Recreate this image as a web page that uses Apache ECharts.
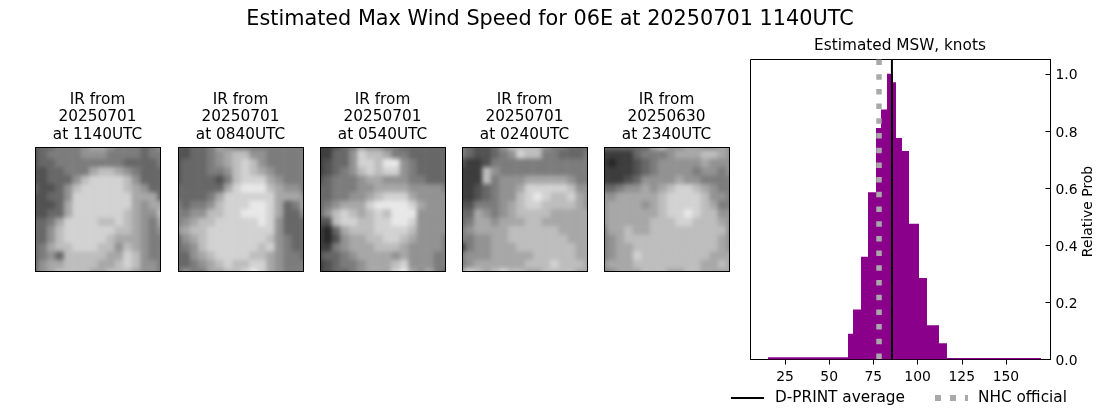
<!DOCTYPE html>
<html>
<head>
<meta charset="utf-8">
<title>Estimated Max Wind Speed</title>
<script src="https://cdn.jsdelivr.net/npm/echarts@6/dist/echarts.min.js"></script>
<style>
  html, body { margin: 0; padding: 0; background: #fff; }
  #main { position: absolute; left: 0; top: 0; width: 1100px; height: 409px; }
  .panel { position: absolute; top: 147px; width: 126px; height: 125px; box-sizing: border-box; border: 1px solid #000; overflow: hidden; }
  .panel div.ir { position: absolute; left: -6px; top: -6px; width: 136px; height: 135px; filter: blur(2px); }
</style>
</head>
<body>
<div id="main"></div>
<script>
// histogram of estimated MSW
const binEdges = [15.4, 60.6, 63.5, 68, 72, 76.5, 79.3, 82.7, 86.1, 87.8, 91.2, 95.1, 100.8, 105.3, 112.1, 116.6, 169.8];
const binProbs = [0.008, 0.09, 0.175, 0.36, 0.585, 0.81, 0.875, 1.0, 0.97, 0.775, 0.73, 0.475, 0.285, 0.12, 0.057, 0.005];
const dprintAverage = 85.5;
const nhcOfficial = 78.2;
const xTicks = [25, 50, 75, 100, 125, 150];
const yTicks = [0, 0.2, 0.4, 0.6, 0.8, 1.0];

// IR panels, coarse brightness (0 dark, 9 bright) by row
const panelTitles = ['IR from\n20250701\nat 1140UTC', 'IR from\n20250701\nat 0840UTC', 'IR from\n20250701\nat 0540UTC', 'IR from\n20250701\nat 0240UTC', 'IR from\n20250630\nat 2340UTC'];
const panelLeft = [35, 178, 320, 462, 604];
const ir1140 = [
  [2,3,3,4,4,4,5,6,6,5,4,4,4,3,4,5],
  [2,3,4,4,4,4,5,5,5,4,4,4,4,3,4,4],
  [2,3,3,4,4,4,4,4,4,4,4,3,3,3,3,4],
  [2,2,3,3,4,4,4,6,7,7,6,5,4,3,3,3],
  [2,2,3,3,3,5,7,8,8,8,8,7,5,3,3,3],
  [3,2,2,3,5,7,8,8,8,8,8,7,6,5,3,3],
  [2,2,3,3,5,8,8,8,8,8,8,8,6,6,6,3],
  [2,2,2,3,6,8,8,8,8,8,8,8,6,5,6,6],
  [2,2,3,3,6,8,8,8,8,8,8,7,6,5,5,7],
  [3,3,4,6,8,8,8,8,7,7,8,7,6,5,4,6],
  [3,3,5,7,8,8,8,8,8,8,7,7,6,5,4,5],
  [3,3,5,7,8,8,8,8,8,7,6,6,6,5,4,4],
  [3,4,6,7,7,8,8,8,7,7,5,7,6,5,4,4],
  [3,4,5,3,7,7,7,7,7,6,6,8,7,5,4,4],
  [3,5,6,6,7,7,7,7,6,6,7,8,7,5,5,4],
  [3,5,6,7,7,7,7,6,6,7,7,7,6,5,5,4]
];
const ir0840 = [
  [2,2,3,3,4,6,5,4,4,4,4,4,4,4,4,4],
  [2,2,3,3,4,5,6,7,7,5,5,4,4,4,4,4],
  [2,3,3,3,4,5,6,7,8,7,5,4,4,4,4,4],
  [2,3,3,3,4,4,5,7,8,7,6,5,4,4,4,4],
  [2,3,3,3,3,2,4,7,8,8,8,6,5,4,4,4],
  [3,3,3,3,3,3,6,8,9,9,9,7,6,5,5,4],
  [3,3,3,3,4,6,8,8,8,8,8,8,6,6,6,5],
  [4,3,4,4,5,7,8,8,8,9,9,8,6,3,4,6],
  [4,4,5,5,7,7,8,8,9,9,9,8,6,3,3,5],
  [4,5,6,7,7,8,8,8,8,8,9,8,5,3,3,3],
  [5,6,7,7,8,8,8,8,8,8,8,8,5,3,3,3],
  [3,5,6,7,8,8,8,8,8,8,8,7,5,4,3,3],
  [3,4,5,7,8,8,8,8,8,8,7,8,5,4,3,3],
  [3,3,5,6,7,8,8,8,8,7,7,6,5,4,4,3],
  [3,3,4,5,6,7,8,7,7,8,8,6,5,4,4,4],
  [3,5,4,4,6,6,7,7,8,9,8,6,5,4,4,4]
];
const ir0540 = [
  [1,1,2,3,4,6,5,5,4,4,3,3,3,3,3,3],
  [1,1,3,3,5,8,7,7,6,4,4,3,3,3,3,3],
  [1,2,3,3,5,8,8,7,9,9,5,4,3,3,3,3],
  [1,2,3,4,5,7,8,7,8,8,5,4,3,3,3,3],
  [2,3,4,4,4,5,6,6,5,5,5,4,4,3,3,3],
  [3,3,4,4,4,5,5,6,6,6,6,5,5,5,5,4],
  [3,3,4,4,5,5,6,7,8,8,8,6,5,5,5,5],
  [3,4,5,6,6,6,8,9,9,9,9,8,6,5,5,5],
  [3,5,7,8,7,6,7,8,7,9,9,9,5,5,5,5],
  [2,2,7,8,8,7,7,8,8,9,9,8,5,5,5,5],
  [1,0,3,6,7,7,7,8,8,8,8,7,5,5,5,5],
  [1,0,2,5,6,6,7,7,8,8,7,6,5,5,5,4],
  [1,1,4,5,6,6,6,7,7,7,6,5,5,5,5,4],
  [2,3,3,4,5,6,6,6,6,5,6,5,5,5,4,4],
  [1,2,3,4,4,5,6,6,6,7,8,5,5,5,4,4],
  [1,2,3,3,4,5,6,6,6,8,9,6,5,6,4,3]
];
const ir0240 = [
  [4,3,2,2,3,5,7,7,7,7,5,4,4,3,3,3],
  [4,3,2,2,3,4,5,8,7,7,4,4,3,3,3,4],
  [2,1,1,2,4,4,4,4,4,4,4,4,4,4,4,4],
  [1,1,1,7,5,4,4,4,4,4,4,4,4,4,4,4],
  [1,1,1,7,4,5,5,5,6,6,6,6,6,5,4,4],
  [1,1,2,3,4,5,5,6,8,8,8,8,8,7,5,5],
  [1,1,2,3,4,5,5,7,8,9,8,7,7,8,6,5],
  [2,2,4,4,4,5,6,7,8,8,7,7,7,7,6,5],
  [3,3,6,5,4,5,6,7,7,7,7,6,6,6,6,6],
  [3,4,6,6,5,6,6,6,7,7,6,6,6,6,6,6],
  [4,5,6,6,6,6,7,7,7,7,7,7,6,6,6,6],
  [4,4,5,5,6,6,7,7,7,7,7,7,7,6,6,6],
  [1,4,5,5,6,6,6,7,7,7,7,7,7,7,6,6],
  [4,5,5,5,6,6,6,6,6,7,7,7,7,7,6,6],
  [4,5,6,6,6,6,6,6,7,7,7,8,7,7,7,6],
  [6,8,7,6,7,8,7,7,6,6,7,7,7,7,6,6]
];
const ir2340 = [
  [3,3,3,3,3,3,6,7,5,5,6,6,5,5,6,5],
  [1,1,1,1,3,4,4,4,5,6,6,6,7,7,6,5],
  [1,0,1,1,2,3,4,5,5,5,5,5,6,5,5,5],
  [1,1,1,1,2,3,4,5,5,5,5,4,5,5,4,5],
  [1,1,1,2,3,5,5,5,5,6,5,5,4,4,4,4],
  [3,3,4,5,5,6,5,6,7,8,8,7,6,5,4,4],
  [5,5,6,6,6,6,6,7,8,8,8,8,7,5,5,4],
  [5,6,6,6,6,5,6,7,8,8,8,8,7,6,4,4],
  [5,6,6,6,6,6,6,7,8,8,9,8,7,7,5,5],
  [5,6,6,6,6,6,7,7,7,8,8,7,7,7,6,5],
  [4,6,6,7,6,6,7,7,7,7,7,7,7,7,7,5],
  [4,5,6,7,7,7,7,7,7,7,7,7,7,7,6,5],
  [4,5,6,6,7,7,7,7,7,7,7,7,7,7,6,5],
  [4,5,6,6,8,7,7,7,7,7,7,7,7,6,6,6],
  [5,6,6,6,7,7,7,7,7,7,7,7,6,6,7,6],
  [4,5,6,6,6,7,7,7,6,6,7,7,6,6,6,6]
];
const panelValues = [ir1140, ir0840, ir0540, ir0240, ir2340];

const fontName = '"DejaVu Sans"';

// one small heatmap per IR panel, blurred with css so the cells read as an image
panelValues.forEach(function(rows, i) {
  const box = document.createElement('div');
  box.className = 'panel';
  box.style.left = panelLeft[i] + 'px';
  const inner = document.createElement('div');
  inner.className = 'ir';
  box.appendChild(inner);
  document.body.appendChild(box);

  const cells = [];
  rows.forEach((row, r) => row.forEach((v, c) => cells.push([c, r, v])));
  const chart = echarts.init(inner);
  chart.setOption({
    animation: false,
    grid: {left: 0, right: 0, top: 0, bottom: 0},
    xAxis: {type: 'category', show: false, data: rows[0].map((v, c) => c)},
    yAxis: {type: 'category', show: false, inverse: true, data: rows.map((v, r) => r)},
    visualMap: {show: false, min: 0, max: 9, inRange: {color: ['#262626', '#e8e8e8']}},
    series: [{type: 'heatmap', data: cells}]
  });
});

const titles = [{
  text: 'Estimated Max Wind Speed for 06E at 20250701 1140UTC',
  left: 550, top: 9, padding: 0, textAlign: 'center',
  textStyle: {fontFamily: fontName, fontWeight: 'normal', fontSize: 20.8, color: '#000'}
}, {
  text: 'Estimated MSW, knots',
  left: 900, top: 39, padding: 0, textAlign: 'center',
  textStyle: {fontFamily: fontName, fontWeight: 'normal', fontSize: 15.3, color: '#000'}
}];
panelTitles.forEach(function(t, i) {
  titles.push({
    text: t,
    left: panelLeft[i] + 62.5, top: 91, padding: 0, textAlign: 'center',
    textStyle: {fontFamily: fontName, fontWeight: 'normal', fontSize: 15.3, lineHeight: 17.5, color: '#000'}
  });
});

const myChart = echarts.init(document.getElementById('main'));
myChart.setOption({
  animation: false,
  title: titles,
  grid: {left: 750.5, top: 59.5, width: 300, height: 300, show: true, borderColor: '#000', borderWidth: 1, backgroundColor: 'transparent', outerBoundsMode: 'none'},
  legend: [{
    left: 731, top: 390.5, padding: 0, itemWidth: 33, itemHeight: 2, icon: 'rect',
    data: ['D-PRINT average'],
    textStyle: {fontFamily: fontName, fontSize: 15.3, color: '#000', padding: [0, 0, 0, 6]}
  }, {
    left: 935, top: 390.5, padding: 0, itemWidth: 33, itemHeight: 6,
    icon: 'path://M0 0H6V6H0Z M15 0H21V6H15Z M30 0H33V6H30Z',
    data: ['NHC official'],
    textStyle: {fontFamily: fontName, fontSize: 15.3, color: '#000', padding: [0, 0, 0, 5]}
  }],
  xAxis: {
    type: 'value', min: 5.5, max: 175.2,
    splitLine: {show: false},
    axisLine: {lineStyle: {color: '#000', width: 1}},
    axisTick: {length: 5, lineStyle: {color: '#000'}, customValues: xTicks},
    axisLabel: {customValues: xTicks, color: '#000', fontFamily: fontName, fontSize: 13.9, margin: 11}
  },
  yAxis: {
    type: 'value', min: 0, max: 1.05, position: 'right',
    name: 'Relative Prob', nameLocation: 'middle', nameRotate: 90, nameGap: 31,
    nameTextStyle: {color: '#000', fontFamily: fontName, fontSize: 13.9, padding: [0, 4, 0, 0]},
    splitLine: {show: false},
    axisLine: {show: true, lineStyle: {color: '#000', width: 1}},
    axisTick: {show: true, inside: true, length: 5, lineStyle: {color: '#000'}, customValues: yTicks},
    axisLabel: {
      customValues: yTicks, margin: 5,
      formatter: v => '{v|' + v.toFixed(1) + '}',
      rich: {v: {color: '#000', fontFamily: fontName, fontSize: 13.9, padding: [4, 0, 0, 0]}}
    }
  },
  series: [{
    name: 'hist',
    type: 'custom',
    clip: true,
    encode: {x: [0, 1], y: 2},
    data: binProbs.map((p, i) => [binEdges[i], binEdges[i + 1], p]),
    renderItem: function(params, api) {
      const a = api.coord([api.value(0), api.value(2)]);
      const b = api.coord([api.value(1), 0]);
      // snap to whole pixels so neighbouring bars leave no seam
      const x0 = Math.round(a[0]);
      const x1 = Math.round(b[0]);
      return {
        type: 'rect',
        shape: {x: x0, y: a[1], width: x1 - x0, height: b[1] - a[1]},
        style: {fill: '#8b008b'}
      };
    }
  }, {
    name: 'D-PRINT average',
    type: 'line',
    showSymbol: false,
    symbol: 'none',
    z: 3,
    itemStyle: {color: '#000'},
    lineStyle: {color: '#000', width: 2},
    data: [[dprintAverage, 0], [dprintAverage, 1.05]]
  }, {
    name: 'NHC official',
    type: 'line',
    showSymbol: false,
    symbol: 'none',
    z: 4,
    itemStyle: {color: '#a9a9a9'},
    lineStyle: {color: '#a9a9a9', width: 5.5, type: [5.5, 9.2], cap: 'butt'},
    data: [[nhcOfficial, 1.05], [nhcOfficial, 0]]
  }]
});

window.addEventListener('resize', function() {
  myChart.resize();
});
</script>
</body>
</html>
